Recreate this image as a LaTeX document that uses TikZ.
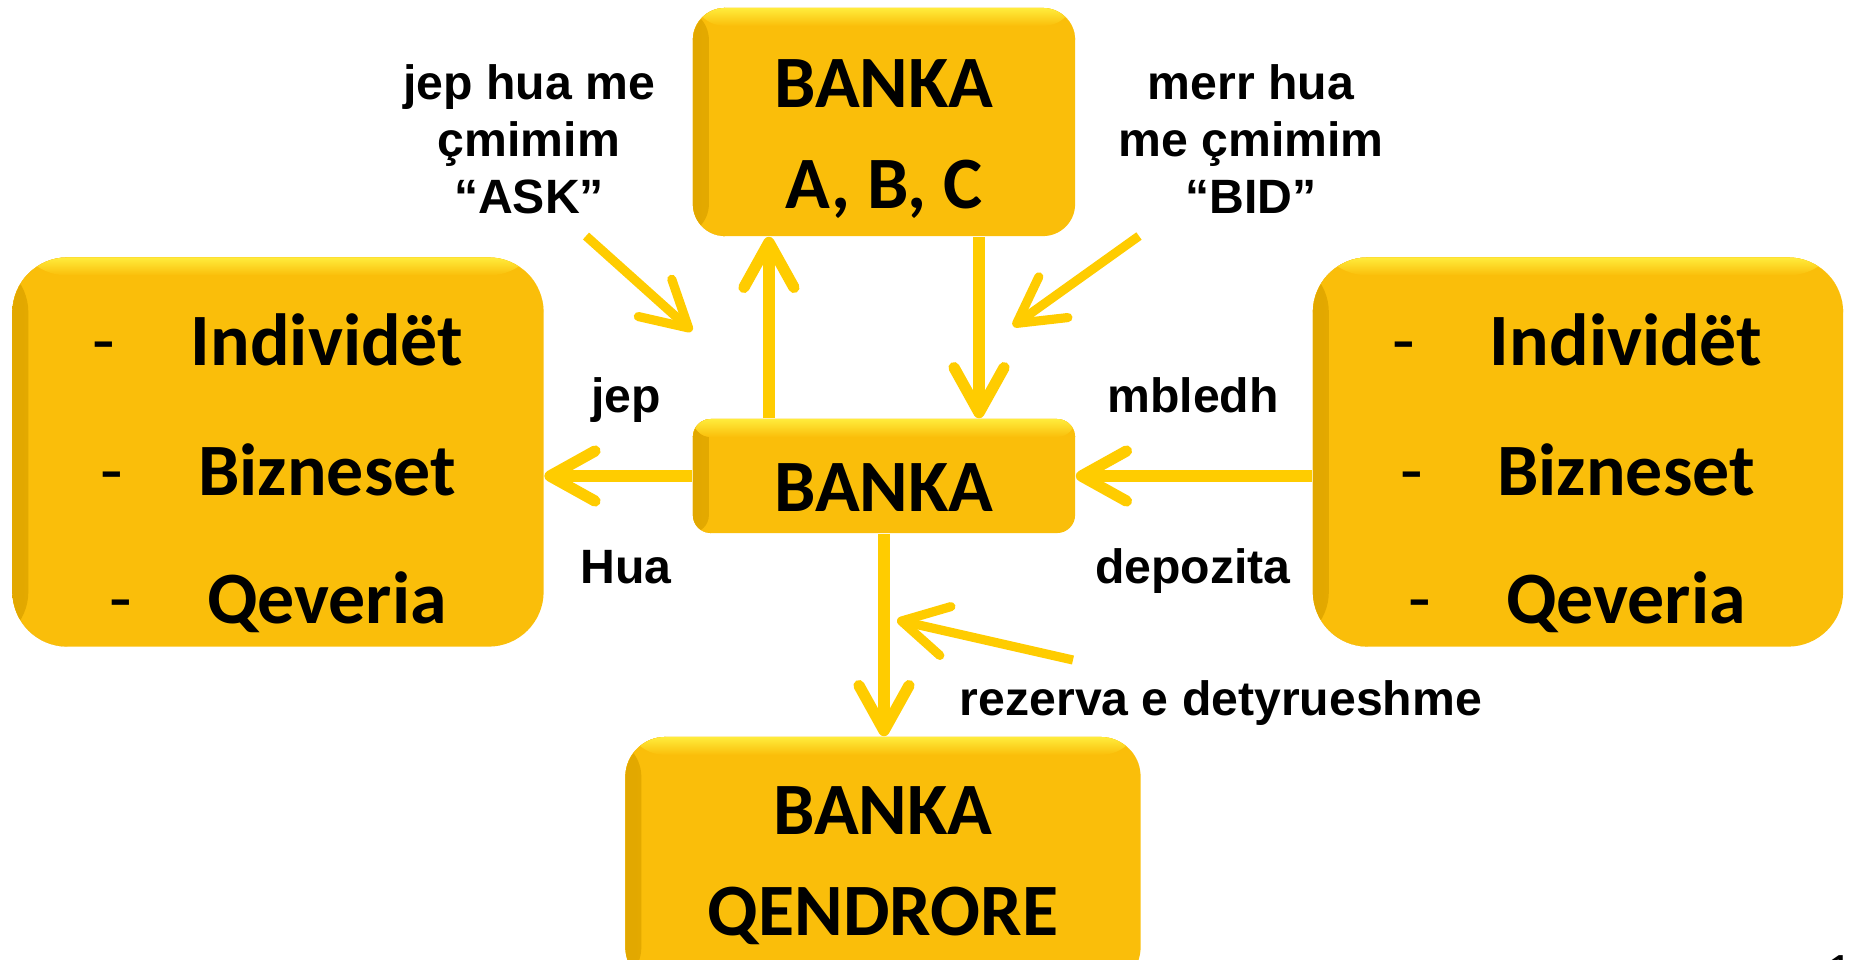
\documentclass[tikz,border=0pt]{standalone}
\usepackage{fontspec}
\setmainfont{Liberation Sans}
\newfontfamily\calibri{Carlito}
\usepackage{xcolor}
\usepackage{tikz}
\usetikzlibrary{arrows.meta,positioning}

\definecolor{boxgold}{RGB}{250,190,10}
\definecolor{boxlight}{RGB}{255,236,60}
\definecolor{boxdark}{RGB}{226,168,0}
\definecolor{arrowgold}{RGB}{255,204,0}

\begin{document}
\begin{tikzpicture}[x=0.01cm, y=-0.01cm,
    panel/.style={fill=boxgold, inner sep=0pt,
        path picture={
            \fill[left color=boxdark, right color=boxgold] (path picture bounding box.south west) rectangle ([xshift=0.16cm]path picture bounding box.north west);
            \fill[top color=boxlight, bottom color=boxgold] (path picture bounding box.north west) rectangle ([yshift=-0.18cm]path picture bounding box.north east);
        }},
    boxtext/.style={font=\calibri\bfseries\fontsize{21}{25}\selectfont, anchor=base, inner sep=0pt},
    dashtext/.style={boxtext, font=\calibri\mdseries\fontsize{21}{25}\selectfont},
    note/.style={font=\bfseries\fontsize{13.7}{16.2}\selectfont, align=center, anchor=base, inner sep=0pt},
    flow/.style={draw=arrowgold, line width=3.2pt, -{Straight Barb[length=0.45cm, width=0.5cm, round]}},
    slant/.style={flow, line width=2.6pt}]
    \useasboundingbox (0,0) rectangle (1850,959);
    \clip (0,0) rectangle (1850,959);

    % Boxes
    \node[panel, rounded corners=0.32cm, minimum width=3.82cm, minimum height=2.28cm] (abc) at (884,122) {};
    \node[panel, rounded corners=0.18cm, minimum width=3.82cm, minimum height=1.14cm] (bank) at (884,476) {};
    \node[panel, rounded corners=0.55cm, minimum width=5.31cm, minimum height=3.89cm] (lend) at (278,452) {};
    \node[panel, rounded corners=0.55cm, minimum width=5.30cm, minimum height=3.89cm] (save) at (1578,452) {};
    \node[panel, rounded corners=0.4cm, minimum width=5.15cm, minimum height=2.5cm] (central) at (883,862) {};

    % Box texts
    \node[boxtext] (abc1) at (884,107) {BANKA};
    \node[boxtext] (abc2) at (884,208) {A, B, C};
    \node[boxtext] (bank1) at (884,511) {BANKA};
    \node[boxtext] (central1) at (883,834) {BANKA};
    \node[boxtext] (central2) at (883,935) {QENDRORE};
    \foreach \word/\yy/\dl/\dr [count=\i] in {Individët/365/104/1404, Bizneset/495/112/1412, Qeveria/623/121/1420} {
        \node[boxtext] (lw\i) at (327,\yy) {\word};
        \node[dashtext] (ld\i) at (\dl,\yy) {-};
        \node[boxtext] (rw\i) at (1626,\yy) {\word};
        \node[dashtext] (rd\i) at (\dr,\yy) {-};
    }

    % Flows between the boxes
    \draw[flow] ([xshift=-1.15cm]bank.north) -- ([xshift=-1.15cm]abc.south);
    \draw[flow] ([xshift=0.95cm]abc.south) -- ([xshift=0.95cm]bank.north);
    \draw[flow] (bank.west) -- (bank.west -| lend.east);
    \draw[flow] (save.west |- bank.east) -- (bank.east);
    \draw[flow] (bank.south) -- (bank.south |- central.north);

    % Price arrows
    \coordinate (askfrom) at (586,236);
    \coordinate (askto) at (692,331);
    \coordinate (bidfrom) at (1139,236);
    \coordinate (bidto) at (1013,326);
    \coordinate (resfrom) at (1073,660);
    \coordinate (resto) at (897,620);
    \draw[slant] (askfrom) -- (askto);
    \draw[slant] (bidfrom) -- (bidto);
    \draw[slant] (resfrom) -- (resto);

    % Labels
    \node[note] (ask) at (529,213) {jep hua me\\çmimim\\“ASK”};
    \node[note] (bid) at (1251,213) {merr hua\\me çmimim\\“BID”};
    \node[note] (jep) at (626,412) {jep};
    \node[note] (hua) at (626,583) {Hua};
    \node[note] (mbledh) at (1193,412) {mbledh};
    \node[note] (depozita) at (1193,583) {depozita};
    \node[note] (rezerva) at (1221,715) {rezerva e detyrueshme};

    % Slide number
    \node[anchor=north west, inner sep=0pt, font=\fontsize{14}{16}\selectfont] (pagenr) at (1826,954) {10};
\end{tikzpicture}
\end{document}
